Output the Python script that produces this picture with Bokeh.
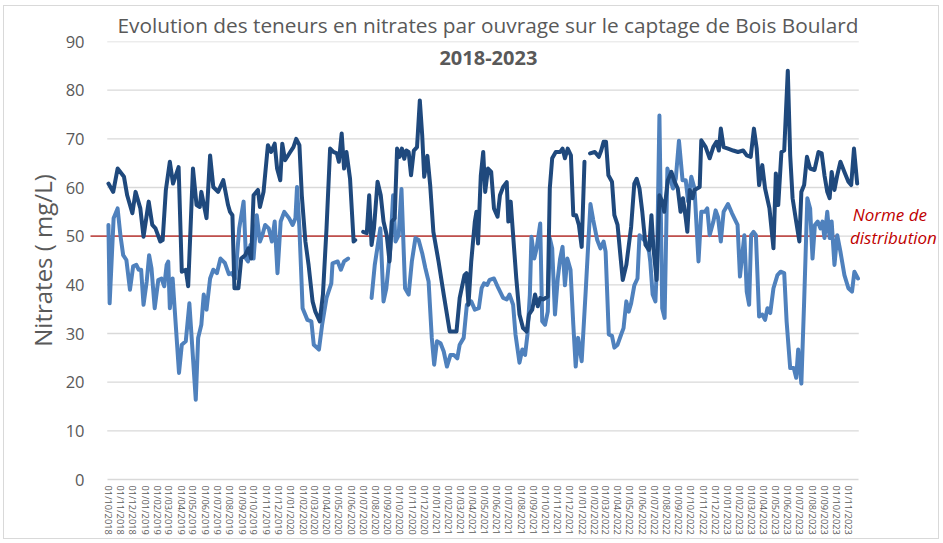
import numpy as np
import pandas as pd
from bokeh.plotting import figure
from bokeh.models import Label, MonthsTicker, DatetimeTickFormatter, FixedTicker
from bokeh.embed import file_html
from bokeh.resources import INLINE

# ---------------- data ----------------
NAN = float("nan")

dark_dates = [
    "2018-10-01", "2018-10-13", "2018-10-24", "2018-11-09", "2018-11-17", "2018-11-30",
    "2018-12-08", "2018-12-20", "2018-12-28", "2019-01-10", "2019-01-19", "2019-01-27",
    "2019-02-08", "2019-02-14", "2019-02-22", "2019-03-04", "2019-03-12", "2019-03-26",
    "2019-04-03", "2019-04-13", "2019-04-19", "2019-05-01", "2019-05-10", "2019-05-18",
    "2019-05-22", "2019-06-04", "2019-06-13", "2019-06-21", "2019-07-03", "2019-07-16",
    "2019-07-28", "2019-08-02", "2019-08-08", "2019-08-13", "2019-08-23", "2019-08-30",
    "2019-09-09", "2019-09-17", "2019-09-24", "2019-09-30", "2019-10-11", "2019-10-16",
    "2019-10-25", "2019-11-05", "2019-11-13", "2019-11-22", "2019-11-28", "2019-12-06",
    "2019-12-11", "2019-12-18", "2019-12-31", "2020-01-08", "2020-01-15", "2020-01-23",
    "2020-01-29", "2020-02-07", "2020-02-15", "2020-02-25", "2020-03-03", "2020-03-14",
    "2020-03-22", "2020-03-31", "2020-04-09", "2020-04-17", "2020-04-26", "2020-05-01",
    "2020-05-08", "2020-05-14", "2020-05-20", "2020-05-29", "2020-06-07", "2020-06-11",
    "2020-06-20",
    "2020-07-01", "2020-07-10", "2020-07-16", "2020-07-22", "2020-07-28", "2020-08-06",
    "2020-08-14", "2020-08-21", "2020-08-29", "2020-09-05", "2020-09-11", "2020-09-18",
    "2020-09-24", "2020-09-30", "2020-10-06", "2020-10-12", "2020-10-17", "2020-10-23",
    "2020-10-29", "2020-11-05", "2020-11-13", "2020-11-20", "2020-11-26", "2020-12-01",
    "2020-12-09", "2020-12-16", "2020-12-24", "2021-01-06", "2021-01-19", "2021-02-03",
    "2021-02-13", "2021-02-20", "2021-02-28", "2021-03-12", "2021-03-17", "2021-03-22",
    "2021-03-29", "2021-04-07", "2021-04-11", "2021-04-15", "2021-04-22", "2021-04-28",
    "2021-05-03", "2021-05-10", "2021-05-18", "2021-05-25", "2021-06-03", "2021-06-09",
    "2021-06-17", "2021-06-26", "2021-06-30", "2021-07-06", "2021-07-12", "2021-07-20",
    "2021-07-28", "2021-08-06", "2021-08-15", "2021-08-21", "2021-08-29", "2021-09-05",
    "2021-09-12", "2021-09-18", "2021-09-26", "2021-10-07", "2021-10-12", "2021-10-18",
    "2021-10-27", "2021-11-07", "2021-11-13", "2021-11-19", "2021-11-26", "2021-12-04",
    "2021-12-10", "2021-12-17", "2021-12-24", "2021-12-31", "2022-01-07",
    "2022-01-14",
    "2022-01-21", "2022-02-02", "2022-02-12", "2022-02-18", "2022-02-24", "2022-03-02",
    "2022-03-08", "2022-03-17", "2022-03-23", "2022-03-31", "2022-04-07", "2022-04-13",
    "2022-04-22", "2022-05-04", "2022-05-12", "2022-05-18", "2022-05-25", "2022-06-01",
    "2022-06-09", "2022-06-18", "2022-06-24", "2022-06-29", "2022-07-07", "2022-07-14",
    "2022-07-21", "2022-07-26", "2022-08-04", "2022-08-13", "2022-08-21", "2022-08-29",
    "2022-09-05", "2022-09-11", "2022-09-18", "2022-09-22", "2022-09-28", "2022-10-05",
    "2022-10-10", "2022-10-23", "2022-10-27", "2022-11-07", "2022-11-17", "2022-11-26",
    "2022-12-04", "2022-12-10", "2022-12-15", "2022-12-22", "2023-01-02", "2023-01-15",
    "2023-01-27", "2023-02-09", "2023-02-18", "2023-02-28", "2023-03-08", "2023-03-15",
    "2023-03-21", "2023-03-29", "2023-04-05", "2023-04-16", "2023-04-26", "2023-05-02",
    "2023-05-08", "2023-05-16", "2023-05-23", "2023-06-01", "2023-06-07", "2023-06-13",
    "2023-06-22", "2023-06-30", "2023-07-05", "2023-07-12", "2023-07-19", "2023-07-27",
    "2023-08-07", "2023-08-17", "2023-08-25", "2023-09-01", "2023-09-08", "2023-09-14",
    "2023-09-19", "2023-09-26", "2023-10-03", "2023-10-11", "2023-10-21", "2023-10-31",
    "2023-11-07", "2023-11-14", "2023-11-22",
]
dark_values = [
    60.8, 59.1, 63.9, 62.2, 58.4, 54.7,
    59.1, 55.7, 49.9, 57.1, 52.3, 51.6,
    48.9, 49.2, 59.5, 65.3, 60.8, 64.2,
    42.7, 43.1, 39.7, 63.9, 56.4, 56.0,
    59.1, 53.7, 66.6, 60.1, 59.1, 61.5,
    56.4, 55.0, 54.3, 39.3, 39.3, 45.4,
    46.1, 47.5, 45.4, 58.4, 59.5, 56.0,
    59.1, 68.7, 67.3, 69.0, 63.9, 61.5,
    69.0, 65.6, 67.3, 68.3, 70.0, 68.7,
    58.4, 48.9, 44.1, 36.6, 34.5, 32.5,
    38.0, 51.6, 68.0, 67.3, 67.0, 65.3,
    71.1, 63.9, 67.3, 61.8, 48.9, 49.2,
    NAN,
    50.9, 50.6, 58.4, 48.2, 51.6, 61.2,
    58.4, 53.0, 50.2, 44.8, 53.0, 53.7,
    68.0, 66.3, 68.0, 65.9, 67.6, 67.3,
    62.5, 67.6, 68.3, 77.9, 70.7, 62.2,
    66.5, 60.5, 50.9, 44.8, 38.0, 30.4,
    30.4, 30.4, 37.3, 42.0, 42.4, 35.9,
    44.8, 53.0, 55.0, 48.5, 62.5, 67.3,
    59.1, 63.9, 63.2, 55.7, 54.0, 58.4,
    60.1, 61.1, 53.0, 57.1, 50.2, 41.3,
    33.9, 31.1, 30.4, 33.9, 34.9, 38.0,
    35.6, 37.3, 37.0, 37.6, 59.8, 66.0,
    67.3, 67.3, 68.0, 66.0, 68.0, 66.6,
    54.3, 54.3, 52.3, 47.8, 65.3,
    NAN,
    67.0, 67.3, 66.3, 67.6, 69.4, 69.4,
    62.5, 61.2, 54.3, 52.3, 46.1, 41.0,
    44.1, 51.9, 60.8, 61.8, 59.8, 55.0,
    48.2, 47.2, 54.3, 47.5, 41.0, 58.4,
    57.1, 55.0, 61.5, 63.2, 61.2, 59.8,
    55.0, 57.8, 53.7, 50.9, 59.5, 57.8,
    59.5, 60.1, 69.7, 68.3, 66.0, 68.3,
    69.4, 67.6, 72.1, 68.3, 68.0, 67.6,
    67.3, 67.6, 66.6, 66.3, 72.1, 68.0,
    60.5, 64.6, 59.8, 55.7, 47.5, 62.9,
    56.4, 67.3, 67.6, 84.0, 66.6, 57.8,
    53.0, 48.9, 59.1, 60.5, 66.3, 63.9,
    63.6, 67.3, 67.0, 62.5, 59.1, 57.8,
    63.2, 59.5, 62.5, 65.3, 63.2, 61.2,
    60.5, 68.0, 60.8,
]

light_dates = [
    "2018-10-01", "2018-10-04", "2018-10-14", "2018-10-24", "2018-10-31", "2018-11-07",
    "2018-11-15", "2018-11-24", "2018-12-02", "2018-12-10", "2018-12-16", "2018-12-22",
    "2018-12-28", "2019-01-05", "2019-01-11", "2019-01-17", "2019-01-25", "2019-02-03",
    "2019-02-11", "2019-02-18", "2019-02-24", "2019-02-28", "2019-03-04", "2019-03-11",
    "2019-03-16", "2019-03-27", "2019-04-03", "2019-04-13", "2019-04-22", "2019-05-08",
    "2019-05-14", "2019-05-22", "2019-05-28", "2019-06-04", "2019-06-13", "2019-06-21",
    "2019-06-30", "2019-07-09", "2019-07-20", "2019-07-30", "2019-08-06", "2019-08-15",
    "2019-08-25", "2019-09-05", "2019-09-11", "2019-09-16", "2019-09-22", "2019-09-30",
    "2019-10-08", "2019-10-16", "2019-10-22", "2019-10-29", "2019-11-07", "2019-11-15",
    "2019-11-22", "2019-11-29", "2019-12-07", "2019-12-16", "2019-12-28", "2020-01-06",
    "2020-01-13", "2020-01-17", "2020-01-23", "2020-01-31", "2020-02-12", "2020-02-22",
    "2020-02-28", "2020-03-12", "2020-03-20", "2020-03-31", "2020-04-12", "2020-04-15",
    "2020-04-28", "2020-05-06", "2020-05-14", "2020-05-24",
    "2020-06-20",
    "2020-07-22", "2020-07-30", "2020-08-13", "2020-08-21", "2020-08-28", "2020-09-07",
    "2020-09-14", "2020-09-20", "2020-09-28", "2020-10-05", "2020-10-14", "2020-10-23",
    "2020-10-31", "2020-11-09", "2020-11-17", "2020-11-26", "2020-12-04", "2020-12-12",
    "2020-12-20", "2020-12-26", "2021-01-02", "2021-01-11", "2021-01-19", "2021-01-27",
    "2021-02-05", "2021-02-13", "2021-02-22", "2021-02-28", "2021-03-10", "2021-03-18",
    "2021-03-29", "2021-04-07", "2021-04-17", "2021-04-24", "2021-04-30", "2021-05-08",
    "2021-05-14", "2021-05-25", "2021-06-05", "2021-06-17", "2021-06-26", "2021-07-03",
    "2021-07-12", "2021-07-18", "2021-07-28", "2021-08-04", "2021-08-11", "2021-08-17",
    "2021-08-23", "2021-08-27", "2021-09-03", "2021-09-09", "2021-09-18", "2021-09-23",
    "2021-09-30", "2021-10-07", "2021-10-12", "2021-10-18", "2021-10-25", "2021-11-01",
    "2021-11-07", "2021-11-13", "2021-11-19", "2021-11-25", "2021-12-03", "2021-12-10",
    "2021-12-16", "2021-12-22", "2021-12-31", "2022-01-10", "2022-01-17", "2022-01-22",
    "2022-01-29", "2022-02-08", "2022-02-16", "2022-02-24", "2022-03-01", "2022-03-09",
    "2022-03-17", "2022-03-23", "2022-03-31", "2022-04-09", "2022-04-15", "2022-04-22",
    "2022-04-28", "2022-05-04", "2022-05-12", "2022-05-20", "2022-05-25", "2022-06-01",
    "2022-06-09", "2022-06-18", "2022-06-21", "2022-06-27", "2022-07-04", "2022-07-08",
    "2022-07-14", "2022-07-21", "2022-07-27", "2022-08-03", "2022-08-10", "2022-08-17",
    "2022-08-24", "2022-09-01", "2022-09-10", "2022-09-18", "2022-09-24", "2022-10-02",
    "2022-10-10", "2022-10-20", "2022-10-27", "2022-11-05", "2022-11-11", "2022-11-17",
    "2022-11-26", "2022-12-02", "2022-12-08", "2022-12-15", "2022-12-22", "2023-01-02",
    "2023-01-12", "2023-01-26", "2023-02-01", "2023-02-05", "2023-02-12", "2023-02-18",
    "2023-02-24", "2023-03-01", "2023-03-07", "2023-03-13", "2023-03-21", "2023-03-29",
    "2023-04-05", "2023-04-11", "2023-04-18", "2023-04-26", "2023-05-06", "2023-05-14",
    "2023-05-23", "2023-05-29", "2023-06-07", "2023-06-16", "2023-06-22", "2023-06-27",
    "2023-07-05", "2023-07-12", "2023-07-20", "2023-07-27", "2023-08-02", "2023-08-08",
    "2023-08-15", "2023-08-22", "2023-08-27", "2023-09-01", "2023-09-08", "2023-09-14",
    "2023-09-19", "2023-09-26", "2023-10-03", "2023-10-11", "2023-10-21", "2023-10-31",
    "2023-11-09", "2023-11-15", "2023-11-24",
]
light_values = [
    52.3, 36.2, 53.7, 55.7, 50.2, 46.1,
    45.1, 39.0, 43.8, 44.1, 43.1, 43.1,
    35.9, 40.7, 46.1, 43.4, 35.2, 41.0,
    41.3, 39.7, 44.1, 44.8, 35.2, 41.3,
    35.2, 21.9, 27.7, 28.4, 36.2, 16.4,
    29.1, 31.8, 38.0, 34.9, 41.3, 43.1,
    42.4, 45.4, 44.5, 42.2, 42.4, 41.3,
    51.6, 57.1, 45.4, 44.8, 48.2, 45.4,
    54.3, 48.9, 50.2, 52.3, 51.6, 48.9,
    53.0, 42.4, 53.0, 55.0, 53.7, 52.3,
    53.7, 60.1, 51.6, 35.2, 32.8, 32.5,
    27.7, 26.7, 31.8, 37.3, 40.3, 44.4,
    44.8, 43.1, 44.8, 45.4,
    NAN,
    37.3, 44.1, 51.6, 36.6, 39.3, 47.5,
    58.4, 48.9, 50.2, 59.7, 39.3, 38.0,
    44.8, 49.6, 49.2, 46.5, 43.4, 40.7,
    29.1, 23.6, 28.4, 28.0, 26.3, 23.2,
    25.6, 25.6, 24.9, 27.7, 29.1, 35.9,
    36.6, 34.9, 35.2, 39.3, 40.3, 40.0,
    41.0, 41.3, 39.3, 37.3, 37.0, 38.0,
    35.9, 29.8, 24.0, 26.7, 25.6, 29.8,
    38.0, 49.9, 45.4, 47.5, 52.6, 32.5,
    31.8, 34.5, 49.6, 47.5, 33.9, 41.3,
    45.4, 47.8, 39.9, 45.4, 43.1, 31.8,
    23.2, 29.1, 24.3, 38.6, 49.2, 56.6,
    53.3, 49.2, 47.5, 48.9, 46.8, 29.8,
    29.5, 27.1, 27.7, 29.8, 31.1, 36.6,
    34.5, 36.2, 39.9, 41.3, 50.2, 49.6,
    48.9, 46.8, 44.8, 38.0, 36.6, 44.8,
    74.8, 35.2, 33.2, 63.9, 61.8, 59.8,
    61.8, 69.6, 61.5, 61.5, 57.1, 62.2,
    59.8, 44.8, 55.0, 55.0, 55.7, 50.2,
    52.9, 55.3, 53.9, 48.9, 55.0, 56.6,
    54.7, 52.3, 41.7, 44.8, 50.2, 38.6,
    35.9, 50.2, 50.9, 50.2, 33.5, 33.9,
    32.8, 35.2, 34.2, 39.3, 42.0, 42.7,
    42.4, 32.5, 22.9, 22.9, 20.9, 26.7,
    19.7, 36.6, 57.8, 55.7, 45.4, 52.3,
    53.0, 51.6, 53.0, 49.6, 55.0, 49.6,
    53.0, 44.1, 50.2, 46.8, 42.0, 39.3,
    38.6, 42.7, 41.3,
]

norm_value = 50
norm_dates = ["2018-08-01", "2023-10-03"]
y_ticks = [0, 10, 20, 30, 40, 50, 60, 70, 80, 90]
title_text = "Evolution des teneurs en nitrates par ouvrage sur le captage de Bois Boulard"
subtitle_text = "2018-2023"
y_label = "Nitrates ( mg/L)"
norm_label = ["Norme de", "distribution"]

# ---------------- figure ----------------
GRAY = "#595959"
x_start = pd.Timestamp("2018-08-17")
x_end = pd.Timestamp("2024-06-18")
grid_start = pd.Timestamp("2018-09-28")
grid_end = pd.Timestamp("2023-11-26")

p = figure(width=936, height=534, x_axis_type="datetime",
           x_range=(x_start, x_end), y_range=(0, 90),
           output_backend="svg", toolbar_location=None,
           min_border_left=86, min_border_right=0,
           min_border_top=33, min_border_bottom=61)
p.outline_line_color = None
p.background_fill_color = "white"
p.border_fill_color = "white"
p.styles = {"border": "1px solid #d9d9d9", "margin-left": "3px", "margin-top": "5px"}

p.title.text = title_text
p.title.align = "left"
p.title.offset = 27
p.title.text_font = "Open Sans"
p.title.text_font_size = "20.8px"
p.title.text_font_style = "normal"
p.title.text_color = GRAY
p.title.standoff = 5

# grid (drawn as segments so that it stops where the axis stops)
p.xgrid.visible = False
p.ygrid.visible = False
p.segment(x0=[grid_start] * (len(y_ticks) - 1), x1=[grid_end] * (len(y_ticks) - 1),
          y0=y_ticks[1:], y1=y_ticks[1:], line_color="#d9d9d9", line_width=1.3)

# y axis
p.yaxis.ticker = FixedTicker(ticks=y_ticks)
p.yaxis.axis_line_color = None
p.yaxis.major_tick_line_color = None
p.yaxis.minor_tick_line_color = None
p.yaxis.major_tick_out = 0
p.yaxis.major_tick_in = 0
p.yaxis.major_label_text_font = "Open Sans"
p.yaxis.major_label_text_font_size = "16.5px"
p.yaxis.major_label_text_color = GRAY
p.yaxis.major_label_standoff = 6
p.yaxis.axis_label = y_label
p.yaxis.axis_label_text_font = "Open Sans"
p.yaxis.axis_label_text_font_size = "24px"
p.yaxis.axis_label_text_font_style = "normal"
p.yaxis.axis_label_text_color = GRAY
p.yaxis.axis_label_standoff = 4

# x axis
p.xaxis.ticker = MonthsTicker(months=list(range(1, 13)))
p.xaxis.bounds = (grid_start, grid_end)
fmt = "%d/%m/%Y"
p.xaxis.formatter = DatetimeTickFormatter(
    days=fmt, months=fmt, years=fmt, hours=fmt, minutes=fmt,
    seconds=fmt, milliseconds=fmt, microseconds=fmt, minsec=fmt, hourmin=fmt,
    strip_leading_zeros=False, context=None)
p.xaxis.major_label_orientation = "vertical"
p.xaxis.major_label_text_font = "Open Sans"
p.xaxis.major_label_text_font_size = "9.3px"
p.xaxis.major_label_text_color = GRAY
p.xaxis.major_label_standoff = 6
p.xaxis.axis_line_color = "#d9d9d9"
p.xaxis.axis_line_width = 1.5
p.xaxis.major_tick_line_color = None
p.xaxis.minor_tick_line_color = None
p.xaxis.major_tick_out = 0
p.xaxis.major_tick_in = 0

# norm line
nd = pd.to_datetime(norm_dates)
p.segment(x0=[nd[0]], x1=[nd[1]], y0=[norm_value], y1=[norm_value],
          line_color="#c0504d", line_width=1.6)

# series
p.line(pd.to_datetime(light_dates), light_values, line_color="#4f81bd",
       line_width=4, line_join="round", line_cap="round")
p.line(pd.to_datetime(dark_dates), dark_values, line_color="#1f497d",
       line_width=4, line_join="round", line_cap="round")


def ms(ts):
    return pd.Timestamp(ts).value / 1e6


p.add_layout(Label(x=ms("2021-05-11"), y=86.7, text=subtitle_text, text_align="center",
                   text_baseline="middle", text_font="Open Sans",
                   text_font_size="20px", text_font_style="bold", text_color=GRAY))

p.add_layout(Label(x=ms("2024-02-12"), y=54.4, text=norm_label[0], text_align="center",
                   text_baseline="middle", text_font="Open Sans",
                   text_font_size="17px", text_font_style="italic", text_color="#c00000"))
p.add_layout(Label(x=ms("2024-02-21"), y=49.7, text=norm_label[1], text_align="center",
                   text_baseline="middle", text_font="Open Sans",
                   text_font_size="17px", text_font_style="italic", text_color="#c00000"))

open("out.html", "w").write(file_html(p, INLINE))
